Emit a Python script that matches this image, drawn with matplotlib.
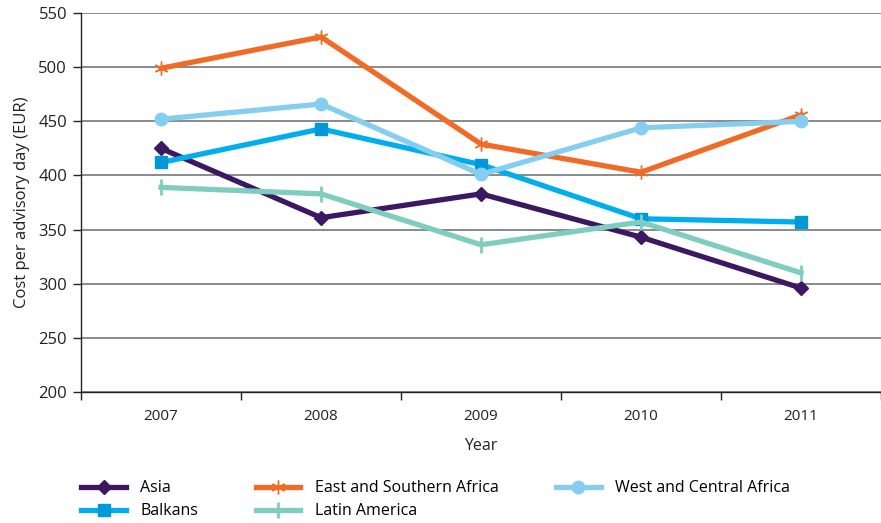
import matplotlib
matplotlib.use("Agg")
import matplotlib.pyplot as plt
from matplotlib.ticker import FixedLocator

plt.rcParams['font.family'] = ['Open Sans', 'DejaVu Sans']

years = ["2007", "2008", "2009", "2010", "2011"]
asia = [425, 361, 383, 343, 296]
balkans = [412, 443, 410, 360, 357]
east_southern_africa = [499, 528, 429, 403, 456]
latin_america = [389, 383, 336, 357, 310]
west_central_africa = [452, 466, 401, 444, 450]

fig = plt.figure(figsize=(8.81, 5.23), dpi=100)
ax = fig.add_axes([0.092, 0.2505, 0.908, 0.7245])

x = list(range(len(years)))
lw = 3.8
ax.plot(x, asia, color='#3d1862', lw=lw, marker='D', ms=7, mfc='#3d1862', mec='#3d1862', label='Asia')
ax.plot(x, balkans, color='#00aeef', lw=lw, marker='s', ms=8, mfc='#0098d6', mec='#0098d6', label='Balkans')
ax.plot(x, east_southern_africa, color='#f26b26', lw=lw, marker=(6, 2, 0), ms=10, mew=1.0, mec='#f26b26', label='East and Southern Africa')
ax.plot(x, latin_america, color='#7ecdbf', lw=lw, marker='|', ms=11, mew=2, mec='#7ecdbf', label='Latin America')
ax.plot(x, west_central_africa, color='#86cef0', lw=lw, marker='o', ms=9, mfc='#86cef0', mec='#86cef0', label='West and Central Africa')

ax.set_xlim(-0.5, len(years) - 0.5)
ax.set_ylim(200, 550)
ax.set_yticks(range(200, 551, 50))
ax.set_xticks(x)
ax.set_xticklabels(years)
ax.xaxis.set_minor_locator(FixedLocator([i - 0.5 for i in range(len(years) + 1)]))
ax.tick_params(axis='x', which='major', length=0, pad=12, labelsize=11, colors='#222222')
ax.tick_params(axis='x', which='minor', length=6, width=1, direction='out', color='#222222')
ax.tick_params(axis='y', length=6, width=1, direction='out', pad=4, labelsize=12, colors='#222222')

ax.grid(axis='y', color='#777777', lw=1.2)
ax.set_axisbelow(True)
for s in ['top', 'right']:
    ax.spines[s].set_visible(False)
ax.spines['left'].set_color('#222222')
ax.spines['bottom'].set_color('#222222')
ax.spines['left'].set_linewidth(1)
ax.spines['bottom'].set_linewidth(1)

ax.set_ylabel('Cost per advisory day (EUR)', fontsize=12, color='#222222', labelpad=6)
ax.set_xlabel('Year', fontsize=11.5, color='#222222', labelpad=10)

handles, labels = ax.get_legend_handles_labels()
fig.legend(handles, labels, ncol=3, loc='upper left', bbox_to_anchor=(0.085, 0.094),
           frameon=False, fontsize=11.5, handlelength=2.8, columnspacing=3.6,
           handletextpad=0.9, labelspacing=0.45, borderaxespad=0)

fig.savefig('out.png', dpi=100)
